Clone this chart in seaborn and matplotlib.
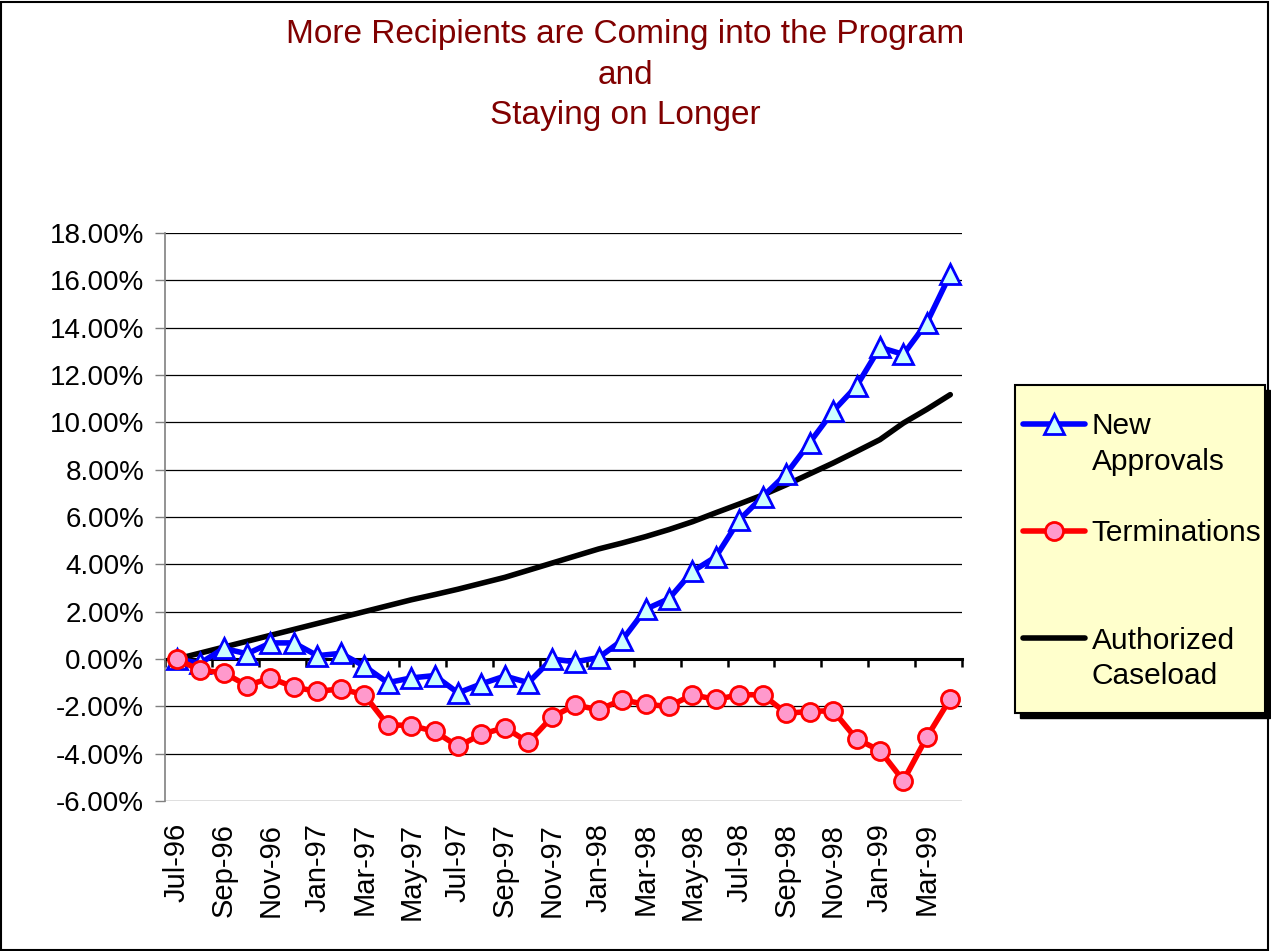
import numpy as np
import pandas as pd
import matplotlib.pyplot as plt
import seaborn as sns
from matplotlib.lines import Line2D
from matplotlib.patches import Rectangle

# Datos (porcentaje de cambio desde Jul-96)
meses = ['Jul-96', 'Aug-96', 'Sep-96', 'Oct-96', 'Nov-96', 'Dec-96',
         'Jan-97', 'Feb-97', 'Mar-97', 'Apr-97', 'May-97', 'Jun-97',
         'Jul-97', 'Aug-97', 'Sep-97', 'Oct-97', 'Nov-97', 'Dec-97',
         'Jan-98', 'Feb-98', 'Mar-98', 'Apr-98', 'May-98', 'Jun-98',
         'Jul-98', 'Aug-98', 'Sep-98', 'Oct-98', 'Nov-98', 'Dec-98',
         'Jan-99', 'Feb-99', 'Mar-99', 'Apr-99']

new_approvals = [0.00, -0.18, 0.45, 0.22, 0.68, 0.68, 0.14, 0.24, -0.30, -1.00,
                 -0.80, -0.70, -1.43, -1.05, -0.72, -1.00, 0.00, -0.12, 0.06, 0.79,
                 2.10, 2.55, 3.70, 4.32, 5.88, 6.86, 7.82, 9.14, 10.47, 11.53,
                 13.17, 12.87, 14.21, 16.26]

terminations = [0.00, -0.48, -0.58, -1.12, -0.80, -1.19, -1.37, -1.26, -1.51, -2.78,
                -2.81, -3.06, -3.69, -3.18, -2.90, -3.52, -2.46, -1.94, -2.15, -1.72,
                -1.92, -2.00, -1.51, -1.71, -1.51, -1.51, -2.29, -2.22, -2.18, -3.38,
                -3.87, -5.14, -3.30, -1.68]

caseload = [0.00, 0.25, 0.50, 0.75, 1.00, 1.25, 1.50, 1.75, 2.00, 2.25,
            2.50, 2.72, 2.95, 3.20, 3.45, 3.75, 4.05, 4.35, 4.65, 4.90,
            5.17, 5.47, 5.80, 6.18, 6.55, 6.93, 7.36, 7.82, 8.28, 8.77,
            9.27, 9.97, 10.55, 11.17]

y_ticks = [-6, -4, -2, 0, 2, 4, 6, 8, 10, 12, 14, 16, 18]

df = pd.DataFrame({'mes': meses, 'pos': np.arange(len(meses)),
                   'new': new_approvals, 'term': terminations, 'case': caseload})

sns.set_style('white')
plt.rcParams['font.family'] = ['Liberation Sans', 'DejaVu Sans']
plt.rcParams['text.color'] = 'black'
plt.rcParams['xtick.labelcolor'] = 'black'
plt.rcParams['ytick.labelcolor'] = 'black'

fig = plt.figure(figsize=(12.71, 9.51), dpi=100)
ax = fig.add_axes([165 / 1271, 1 - 801 / 951, (962 - 165) / 1271, (801 - 233) / 951])

# Estilos de las series
est_new = dict(color='#0000FF', lw=4, marker='^', markersize=14.5,
               markerfacecolor='#CCFFFF', markeredgecolor='#0000FF', markeredgewidth=2)
est_term = dict(color='#FF0000', lw=4, marker='o', markersize=13,
                markerfacecolor='#FF99CC', markeredgecolor='#FF0000', markeredgewidth=2)

# Lineas
sns.lineplot(data=df, x='pos', y='case', ax=ax, color='black', lw=4, zorder=3)
sns.lineplot(data=df, x='pos', y='new', ax=ax, zorder=4, **est_new)
sns.lineplot(data=df, x='pos', y='term', ax=ax, zorder=5, **est_term)

ax.set_xlim(-0.5, len(meses) - 0.5)
ax.set_ylim(-6, 18)
ax.set_xlabel('')
ax.set_ylabel('')

ax.set_yticks(y_ticks)
ax.set_yticklabels([f'{v:.2f}%' for v in y_ticks], fontsize=20, color='black')
ax.yaxis.grid(True, color='black', lw=0.9)
ax.tick_params(axis='y', left=True, length=7, width=1, color='#808080', pad=8)

ax.set_xticks(df['pos'][::2])
ax.set_xticklabels(df['mes'][::2], rotation=90, fontsize=21, color='black')
ax.tick_params(axis='x', bottom=False, length=0, pad=16)

for s in ['top', 'right', 'bottom']:
    ax.spines[s].set_visible(False)
ax.spines['left'].set_color('#808080')
ax.spines['left'].set_linewidth(1.2)

# Eje x en 0.00% con marcas cada dos meses
eje0 = ax.secondary_xaxis(6 / 24)
eje0.set_xticks(np.arange(-0.5, len(meses), 2))
eje0.tick_params(axis='x', direction='out', length=6, width=1.8, color='black',
                 labelbottom=False)
eje0.spines['bottom'].set_linewidth(2.2)
eje0.spines['bottom'].set_color('black')

# Titulo
fig.text(625 / 1271, 1 - 19 / 951,
         'More Recipients are Coming into the Program\nand\nStaying on Longer',
         ha='center', va='top', fontsize=24, color='#800000', linespacing=1.4)

# Leyenda con caja amarilla y sombra
fig.patches.append(Rectangle((1020 / 1271, 1 - 718 / 951), 250 / 1271, 328 / 951,
                             transform=fig.transFigure, facecolor='black',
                             edgecolor='black', zorder=1))
fig.patches.append(Rectangle((1015 / 1271, 1 - 713 / 951), 250 / 1271, 328 / 951,
                             transform=fig.transFigure, facecolor='#FFFFCC',
                             edgecolor='black', lw=1.5, zorder=2))

vacio = Line2D([], [], color='none')
h_new = Line2D([], [], **est_new)
h_term = Line2D([], [], **est_term)
h_case = Line2D([], [], color='black', lw=4)
handles = [h_new, vacio, vacio, h_term, vacio, vacio, h_case, vacio]
labels = ['New', 'Approvals', ' ', 'Terminations', ' ', ' ', 'Authorized', 'Caseload']
leg = fig.legend(handles, labels, loc='upper left',
                 bbox_to_anchor=(1023 / 1271, 1 - 412 / 951), frameon=False,
                 fontsize=21.5, numpoints=1, handlelength=2.07, handletextpad=0.23,
                 labelspacing=0.26, borderpad=0, borderaxespad=0)
leg.set_zorder(5)

# Borde de la figura
fig.patches.append(Rectangle((0.001, 0.0015), 0.997, 0.996, transform=fig.transFigure,
                             facecolor='none', edgecolor='black', lw=1.5))

fig.savefig('out.png', dpi=100)
plt.close()
